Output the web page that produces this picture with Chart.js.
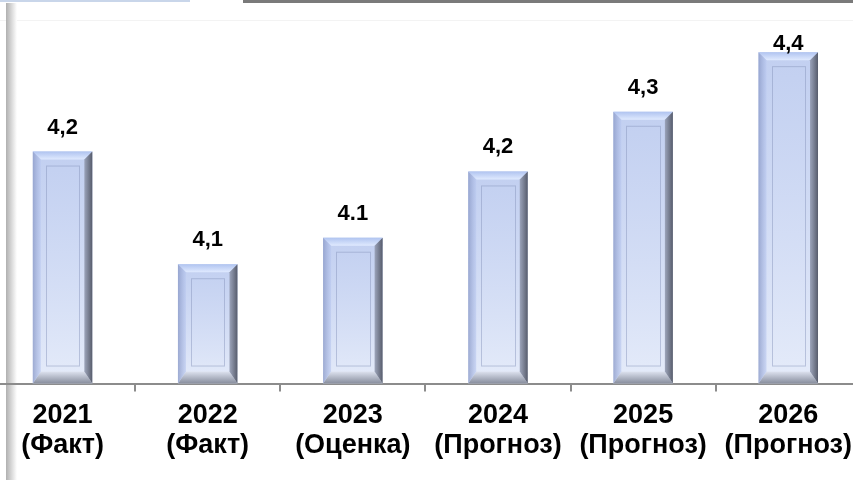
<!DOCTYPE html>
<html lang="ru">
<head>
<meta charset="utf-8">
<title>Прогноз</title>
<script src="https://cdn.jsdelivr.net/npm/chart.js@4.4.1/dist/chart.umd.min.js"></script>
<style>
    html, body {
        margin: 0;
        padding: 0;
        background: #ffffff;
        overflow: hidden;
    }
    .page {
        position: relative;
        width: 853px;
        height: 480px;
        overflow: hidden;
        background: #ffffff;
    }
    /* leftovers of the slide frame around the chart */
    .frame-top-left {
        position: absolute; left: 0; top: 0; width: 190px; height: 2px;
        background: #c9d6ea;
    }
    .frame-top-right {
        position: absolute; left: 243px; top: 0; width: 610px; height: 3px;
        background: #7a7a7a;
    }
    .frame-line {
        position: absolute; left: 0; top: 20px; width: 853px; height: 1px;
        background: #f3f3f3;
    }
    .frame-left {
        position: absolute; left: 6px; top: 3px; width: 11px; height: 477px;
        background: linear-gradient(to right, #b0b0b0, #d8d8d8 50%, #ffffff);
    }
    .chart-box {
        position: absolute;
        left: -10px;
        top: 0;
        width: 871px;
        height: 480px;
    }
</style>
</head>
<body>
<div class="page">
    <div class="frame-top-left"></div>
    <div class="frame-top-right"></div>
    <div class="frame-line"></div>
    <div class="frame-left"></div>
    <div class="chart-box"><canvas id="growthChart"></canvas></div>
</div>

<script>
const years = ['2021', '2022', '2023', '2024', '2025', '2026'];
const stages = ['(Факт)', '(Факт)', '(Оценка)', '(Прогноз)', '(Прогноз)', '(Прогноз)'];
const values = [4.25, 4.08, 4.12, 4.22, 4.31, 4.40];
const valueLabels = ['4,2', '4,1', '4.1', '4,2', '4,3', '4,4'];
const axisMin = 3.9;
const axisMax = 4.45;

const labelFont = "'Liberation Sans', Arial, sans-serif";

// horizontal gradient across each bar, like the bevelled Excel style
function barFill(context) {
    const bar = context.element;
    const ctx = context.chart.ctx;
    if (!bar || bar.width === undefined) return '#d4def5';
    const left = bar.x - bar.width / 2;
    const g = ctx.createLinearGradient(left, 0, left + bar.width, 0);
    g.addColorStop(0, '#a9b8de');
    g.addColorStop(0.15, '#c9d5f2');
    g.addColorStop(0.5, '#dde6f9');
    g.addColorStop(0.78, '#d0d9ee');
    g.addColorStop(1, '#b9c2d8');
    return g;
}

// bevel edges + inner panel drawn over every bar
const bevelPlugin = {
    id: 'bevel',
    afterDatasetsDraw(chart) {
        const ctx = chart.ctx;
        const meta = chart.getDatasetMeta(0);
        meta.data.forEach(bar => {
            const l = bar.x - bar.width / 2;
            const r = bar.x + bar.width / 2;
            const t = bar.y;
            const b = bar.base;
            const e = 8;
            const eb = 12;
            ctx.save();

            // vertical wash: bluer on top, whiter at the bottom
            const v = ctx.createLinearGradient(0, t, 0, b);
            v.addColorStop(0, 'rgba(160,180,232,0.35)');
            v.addColorStop(1, 'rgba(250,252,255,0.45)');
            ctx.fillStyle = v;
            ctx.fillRect(l, t, r - l, b - t);

            // top bevel
            ctx.beginPath();
            ctx.moveTo(l, t); ctx.lineTo(r, t); ctx.lineTo(r - e, t + e); ctx.lineTo(l + e, t + e);
            ctx.closePath();
            const tg = ctx.createLinearGradient(0, t, 0, t + e);
            tg.addColorStop(0, 'rgba(175,195,240,0.95)');
            tg.addColorStop(1, 'rgba(225,235,255,0.95)');
            ctx.fillStyle = tg;
            ctx.fill();

            // bottom bevel
            ctx.beginPath();
            ctx.moveTo(l, b); ctx.lineTo(r, b); ctx.lineTo(r - e, b - eb); ctx.lineTo(l + e, b - eb);
            ctx.closePath();
            const bg = ctx.createLinearGradient(0, b - eb, 0, b);
            bg.addColorStop(0, 'rgba(220,225,238,0.95)');
            bg.addColorStop(1, 'rgba(130,136,152,0.95)');
            ctx.fillStyle = bg;
            ctx.fill();

            // right bevel shade
            ctx.beginPath();
            ctx.moveTo(r, t); ctx.lineTo(r, b); ctx.lineTo(r - e, b - eb); ctx.lineTo(r - e, t + e);
            ctx.closePath();
            const rg = ctx.createLinearGradient(r - e, 0, r, 0);
            rg.addColorStop(0, 'rgba(150,158,180,0.9)');
            rg.addColorStop(1, 'rgba(80,85,100,0.95)');
            ctx.fillStyle = rg;
            ctx.fill();

            // left bevel
            ctx.beginPath();
            ctx.moveTo(l, t); ctx.lineTo(l, b); ctx.lineTo(l + e, b - eb); ctx.lineTo(l + e, t + e);
            ctx.closePath();
            const lg = ctx.createLinearGradient(l, 0, l + e, 0);
            lg.addColorStop(0, 'rgba(140,155,200,0.8)');
            lg.addColorStop(1, 'rgba(185,200,240,0.6)');
            ctx.fillStyle = lg;
            ctx.fill();

            // inner panel lines
            ctx.strokeStyle = 'rgba(130,145,185,0.45)';
            ctx.lineWidth = 1;
            const il = Math.round(l + e + 5) + 0.5;
            const ir = Math.round(r - e - 5) + 0.5;
            ctx.strokeRect(il, t + e + 6.5, ir - il, b - t - e - eb - 12);
            ctx.restore();
        });
    }
};

// value labels over the bars
const valueLabelPlugin = {
    id: 'valueLabels',
    afterDatasetsDraw(chart) {
        const ctx = chart.ctx;
        const meta = chart.getDatasetMeta(0);
        ctx.save();
        ctx.font = 'bold 22px ' + labelFont;
        ctx.fillStyle = '#000000';
        ctx.textAlign = 'center';
        ctx.textBaseline = 'alphabetic';
        meta.data.forEach((bar, i) => {
            const y = Math.max(bar.y - 18, 50);
            ctx.fillText(valueLabels[i], bar.x, y);
        });
        ctx.restore();
    }
};

const canvas = document.getElementById('growthChart');
new Chart(canvas, {
    type: 'bar',
    data: {
        labels: years.map((y, i) => [y, stages[i]]),
        datasets: [{
            data: values,
            base: axisMin,
            backgroundColor: barFill,
            borderWidth: 0,
            barPercentage: 0.41,
            categoryPercentage: 1
        }]
    },
    options: {
        responsive: true,
        maintainAspectRatio: false,
        animation: false,
        layout: {
            padding: { top: 19, left: 0, right: 0, bottom: 10 }
        },
        plugins: {
            legend: { display: false },
            tooltip: { enabled: false }
        },
        scales: {
            x: {
                grid: {
                    offset: true,
                    drawOnChartArea: false,
                    drawTicks: true,
                    tickLength: 8,
                    color: '#8c8c8c',
                    lineWidth: 2
                },
                border: {
                    color: '#8c8c8c',
                    width: 2
                },
                ticks: {
                    color: '#000000',
                    padding: 9,
                    maxRotation: 0,
                    autoSkip: false,
                    font: {
                        family: labelFont,
                        size: 27,
                        weight: 'bold',
                        lineHeight: 1.12
                    }
                }
            },
            y: {
                display: false,
                min: axisMin,
                max: axisMax
            }
        }
    },
    plugins: [bevelPlugin, valueLabelPlugin]
});
</script>
</body>
</html>
